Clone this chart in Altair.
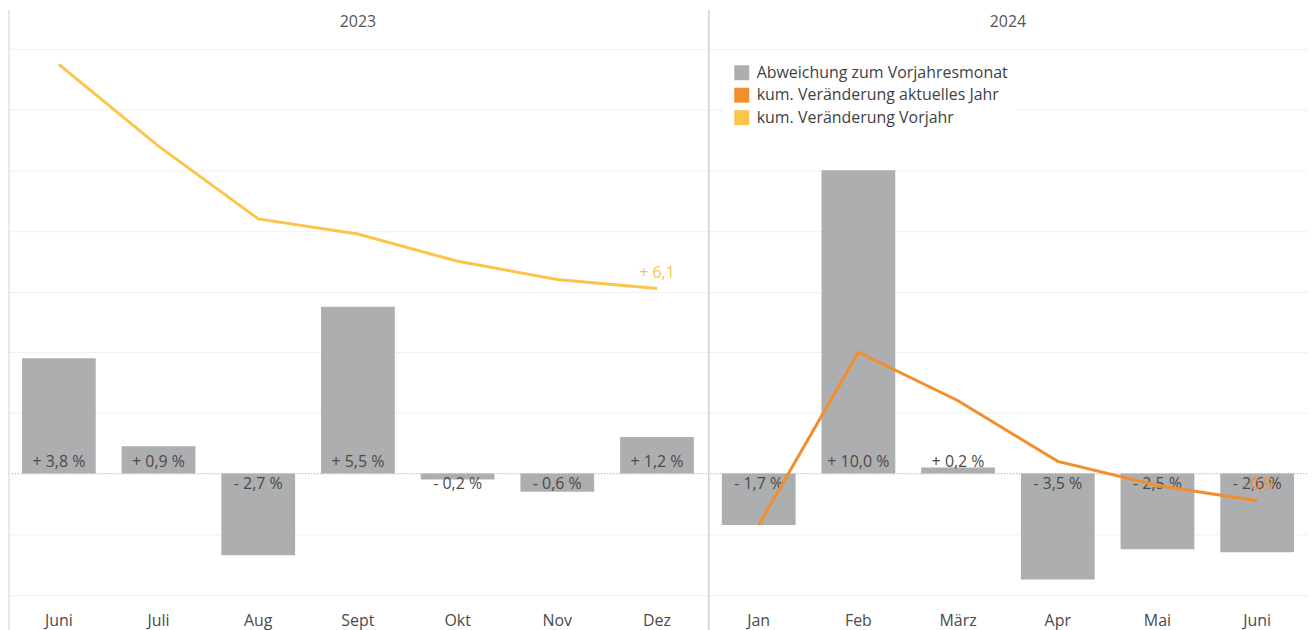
import altair as alt
import pandas as pd

FONT = "Open Sans"

years = ["2023", "2024"]
months_2023 = ["Juni", "Juli", "Aug", "Sept", "Okt", "Nov", "Dez"]
dev_2023 = [3.8, 0.9, -2.7, 5.5, -0.2, -0.6, 1.2]
cum_prev_2023 = [13.5, 10.8, 8.4, 7.9, 7.0, 6.4, 6.1]
months_2024 = ["Jan", "Feb", "März", "Apr", "Mai", "Juni"]
dev_2024 = [-1.7, 10.0, 0.2, -3.5, -2.5, -2.6]
cum_cur_2024 = [-1.7, 4.0, 2.4, 0.4, -0.4, -0.9]

series = ["Abweichung zum Vorjahresmonat", "kum. Veränderung aktuelles Jahr", "kum. Veränderung Vorjahr"]
colors = ["#ADAEB0", "#F28E2B", "#FBC547"]

STEP = 100
H = 560
Y_DOMAIN = [-4.18, 14.24]
GRID_VALUES = [-4, -2, 0, 2, 4, 6, 8, 10, 12, 14]
FS = 16
TXT = "#4A4A4A"


def fmt(v, unit=True):
    s = ("+ " if v >= 0 else "- ") + f"{abs(v):.1f}".replace(".", ",")
    return s + " %" if unit else s


legend = alt.Legend(
    title=None, orient="none", legendX=717, legendY=13,
    symbolType="square", symbolSize=225, symbolStrokeWidth=0,
    labelFontSize=FS, labelFont=FONT, labelColor="#3F3F3F", labelLimit=400,
    fillColor="white", padding=10, rowPadding=6.5, labelOffset=7,
)

yaxis = alt.Axis(title=None, labels=False, ticks=False, domain=False,
                 values=GRID_VALUES, gridColor="#EFEFEF", gridWidth=1, grid=True)


def panel(year, months, dev, cum, line_color, border_color):
    n = len(months)
    W = STEP * n
    df = pd.DataFrame({
        "month": months, "dev": dev, "series": series[0],
        "lbl": [fmt(v) for v in dev],
    })
    ldf = pd.DataFrame({
        "month": months, "cum": cum,
        "end": [""] * (n - 1) + [fmt(cum[-1], unit=False)],
    })
    one = pd.DataFrame({"zero": [0], "year": [year]})

    yscale = alt.Scale(domain=Y_DOMAIN, nice=False, zero=False)
    x = alt.X(
        "month:N", sort=months,
        scale=alt.Scale(paddingInner=0.26, paddingOuter=0.13),
        axis=alt.Axis(title=None, labelAngle=0, ticks=False, domain=False,
                      labelPadding=12, labelFontSize=FS, labelFont=FONT,
                      labelColor=TXT, grid=False),
    )

    bars = alt.Chart(df).mark_bar().encode(
        x=x,
        y=alt.Y("dev:Q", scale=yscale, axis=yaxis),
        y2=alt.datum(0),
        color=alt.Color("series:N", scale=alt.Scale(domain=series, range=colors), legend=legend),
    )
    zero = alt.Chart(one).mark_rule(color="#B5B5B5", strokeDash=[1, 2], strokeWidth=1).encode(
        y=alt.Y("zero:Q", scale=yscale, axis=yaxis)
    )
    pos_lbl = alt.Chart(df).transform_filter("datum.dev >= 0").mark_text(
        baseline="bottom", dy=-3, fontSize=FS, font=FONT, color=TXT
    ).encode(x=x, y=alt.Y("zero:Q", scale=yscale, axis=yaxis), text="lbl:N").transform_calculate(zero="0")
    neg_lbl = alt.Chart(df).transform_filter("datum.dev < 0").mark_text(
        baseline="top", dy=3, fontSize=FS, font=FONT, color=TXT
    ).encode(x=x, y=alt.Y("zero:Q", scale=yscale, axis=yaxis), text="lbl:N").transform_calculate(zero="0")
    line = alt.Chart(ldf).mark_line(color=line_color, strokeWidth=3).encode(
        x=x, y=alt.Y("cum:Q", scale=yscale, axis=yaxis)
    )
    end_lbl = alt.Chart(ldf).transform_filter("datum.end != ''").mark_text(
        baseline="bottom", dy=-8, fontSize=FS, font=FONT, color=line_color
    ).encode(x=x, y=alt.Y("cum:Q", scale=yscale, axis=yaxis), text="end:N")
    border = alt.Chart(one).mark_rule(color=border_color, strokeWidth=1.5).encode(
        x=alt.value(0), y=alt.value(-32), y2=alt.value(H + 32)
    )
    head = alt.Chart(one).mark_text(
        fontSize=FS, font=FONT, color="#555", baseline="middle", align="center"
    ).encode(x=alt.value(W / 2), y=alt.value(-20), text="year:N")

    return alt.layer(zero, bars, pos_lbl, neg_lbl, line, end_lbl, border, head).properties(
        width=W, height=H,
    )


left = panel(years[0], months_2023, dev_2023, cum_prev_2023, colors[2], "#E2E2E2")
right = panel(years[1], months_2024, dev_2024, cum_cur_2024, colors[1], "#CFCFCF")

chart = alt.hconcat(left, right, spacing=0).properties(
    padding={"left": 0, "top": 0, "right": 0, "bottom": 0}
).configure_view(stroke=None)

chart.save("out.html", embed_options={"renderer": "svg", "actions": False})
